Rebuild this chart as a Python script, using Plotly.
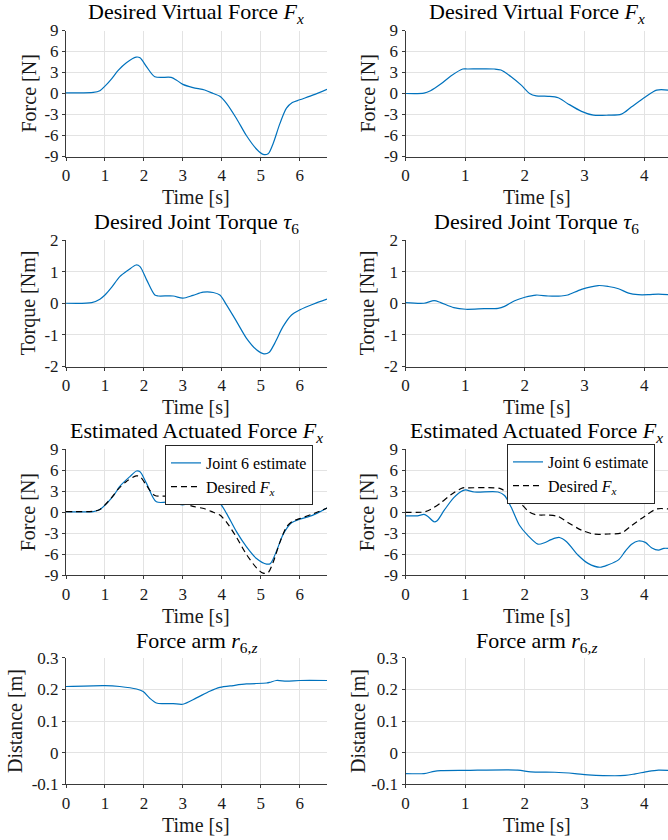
import plotly.graph_objects as go

# ---------------- data ----------------
# Left column (longer trial)
t_left_fx = [0, 0.7, 0.87, 1.0, 1.17, 1.34, 1.55, 1.8, 1.9, 2.07, 2.28, 2.7, 2.84, 3.0, 3.26, 3.56, 3.78, 3.95,
             4.12, 4.38, 4.63, 4.9, 5.06, 5.19, 5.32, 5.49, 5.66, 5.81, 6.0, 6.35, 6.7]
fx_left = [0.1, 0.15, 0.4, 1.05, 2.1, 3.3, 4.4, 5.2, 5.1, 3.8, 2.4, 2.3, 1.9, 1.3, 0.85, 0.5, 0.0, -0.4,
           -1.4, -3.6, -6.0, -8.0, -8.7, -8.6, -7.1, -4.3, -2.1, -1.3, -0.9, -0.2, 0.6]

t_left_tau = [0, 0.66, 0.87, 1.0, 1.17, 1.38, 1.6, 1.8, 1.9, 2.07, 2.28, 2.37, 2.75, 3.0, 3.26, 3.52, 3.78, 3.95,
              4.12, 4.38, 4.63, 4.89, 5.08, 5.21, 5.36, 5.57, 5.79, 6.0, 6.34, 6.7]
tau_left = [0.0, 0.02, 0.13, 0.26, 0.5, 0.84, 1.05, 1.21, 1.16, 0.74, 0.26, 0.23, 0.23, 0.16, 0.25, 0.35, 0.34, 0.26,
            -0.05, -0.58, -1.1, -1.47, -1.6, -1.56, -1.26, -0.74, -0.37, -0.21, -0.03, 0.13]

t_left_est = [0, 0.7, 0.87, 1.21, 1.38, 1.64, 1.81, 1.9, 2.07, 2.32, 2.75, 3.0, 3.26, 3.56, 3.78, 3.95,
              4.12, 4.38, 4.63, 4.89, 5.15, 5.25, 5.4, 5.57, 5.79, 6.0, 6.34, 6.7]
est_left = [0.1, 0.1, 0.4, 2.3, 3.7, 5.1, 5.9, 5.8, 4.1, 1.5, 1.5, 1.05, 1.6, 1.95, 1.76, 1.3,
            -0.15, -2.8, -4.9, -6.6, -7.4, -7.3, -5.6, -3.2, -1.5, -1.0, -0.4, 0.6]

t_left_r = [0, 1.0, 1.38, 1.81, 1.98, 2.15, 2.32, 2.5, 2.75, 3.0, 3.35, 3.69, 3.95, 4.29, 4.63, 5.15, 5.23, 5.4,
            5.66, 6.0, 6.7]
r_left = [0.209, 0.212, 0.209, 0.201, 0.193, 0.172, 0.157, 0.155, 0.155, 0.153, 0.173, 0.194, 0.206, 0.212, 0.217,
          0.220, 0.222, 0.228, 0.226, 0.228, 0.228]

# Right column (shorter trial)
t_right_fx = [0, 0.31, 0.42, 0.59, 0.76, 0.96, 1.04, 1.49, 1.6, 1.77, 1.94, 2.08, 2.19, 2.39, 2.56, 2.72, 2.95,
              3.15, 3.4, 3.62, 3.79, 4.02, 4.21, 4.41]
fx_right = [0.0, 0.05, 0.4, 1.35, 2.5, 3.5, 3.5, 3.5, 3.35, 2.4, 1.2, 0.0, -0.35, -0.4, -0.6, -1.45, -2.55,
            -3.1, -3.1, -2.95, -1.9, -0.5, 0.48, 0.48]

t_right_tau = [0, 0.31, 0.48, 0.59, 0.81, 1.01, 1.32, 1.55, 1.66, 1.83, 2.0, 2.19, 2.39, 2.61, 2.72, 2.95, 3.23,
               3.4, 3.57, 3.74, 3.9, 4.07, 4.24, 4.41]
tau_right = [0.02, 0.0, 0.08, 0.02, -0.14, -0.19, -0.17, -0.16, -0.1, 0.08, 0.19, 0.26, 0.23, 0.23, 0.26, 0.44,
             0.56, 0.53, 0.46, 0.32, 0.27, 0.27, 0.29, 0.27]

t_right_est = [0, 0.2, 0.31, 0.37, 0.48, 0.53, 0.65, 0.81, 0.96, 1.01, 1.15, 1.55, 1.66, 1.77, 1.91, 2.05, 2.22,
               2.33, 2.44, 2.58, 2.7, 2.89, 3.06, 3.26, 3.4, 3.57, 3.68, 3.79, 3.9, 4.02, 4.13, 4.24, 4.33, 4.41]
est_right = [-0.5, -0.5, -0.3, -0.55, -1.35, -1.2, 0.3, 2.1, 3.1, 3.2, 2.9, 2.9, 2.4, 0.75, -1.85, -3.3, -4.55,
             -4.35, -3.9, -3.6, -4.2, -6.1, -7.3, -7.85, -7.5, -6.8, -5.6, -4.55, -4.1, -4.3, -5.1, -5.4, -5.15, -5.15]

t_right_r = [0, 0.31, 0.48, 0.59, 1.01, 1.88, 2.1, 2.5, 2.84, 3.06, 3.68, 3.85, 4.07, 4.24, 4.41]
r_right = [-0.066, -0.066, -0.059, -0.057, -0.056, -0.055, -0.061, -0.062, -0.066, -0.070, -0.072, -0.067,
           -0.059, -0.055, -0.056]

# Tick labels
force_ticks = [-9, -6, -3, 0, 3, 6, 9]
force_ticktext = ["-9", "-6", "-3", "0", "3", "6", "9"]
torque_ticks = [-2, -1, 0, 1, 2]
torque_ticktext = ["-2", "-1", "0", "1", "2"]
dist_ticks = [-0.1, 0, 0.1, 0.2, 0.3]
dist_ticktext = ["-0.1", "0", "0.1", "0.2", "0.3"]
time_ticks_left = [0, 1, 2, 3, 4, 5, 6]
time_ticks_right = [0, 1, 2, 3, 4]

titles = [
    "Desired Virtual Force <i>F<sub>x</sub></i>",
    "Desired Joint Torque <i>τ</i><sub>6</sub>",
    "Estimated Actuated Force <i>F<sub>x</sub></i>",
    "Force arm <i>r</i><sub>6,<i>z</i></sub>",
]
ylabels = ["Force [N]", "Torque [Nm]", "Force [N]", "Distance [m]"]

# ---------------- style / layout ----------------
W, H = 668, 840
FONT = "Liberation Serif"
BLUE = "#0072BD"
AXC = "#3a3a3a"
GRIDC = "#e3e3e3"
TXT = "#1a1a1a"

col_px = [(66, 327), (405.5, 668)]
row_px = [(30.5, 156.5), (240, 366.5), (449.3, 575.3), (657.7, 784.3)]


def xd(a, b):
    return [a / W, min(b / W, 1.0)]


def yd(top, bot):
    return [1 - bot / H, 1 - top / H]


fig = go.Figure()


def add_line(idx, x, y, name=None, dash=None, color=BLUE, legend=None, show=False):
    fig.add_trace(go.Scatter(
        x=x, y=y, mode="lines", name=name,
        line=dict(color=color, width=1.2, shape="spline", smoothing=0.8, dash=dash),
        xaxis="x" if idx == 1 else f"x{idx}", yaxis="y" if idx == 1 else f"y{idx}",
        showlegend=show, legend=legend,
    ))


# subplot index: row r (0..3), col c (0..1) -> idx = r*2 + c + 1
add_line(1, t_left_fx, fx_left)
add_line(2, t_right_fx, fx_right)
add_line(3, t_left_tau, tau_left)
add_line(4, t_right_tau, tau_right)
add_line(5, t_left_est, est_left, name="Joint 6 estimate", legend="legend", show=True)
add_line(5, t_left_fx, fx_left, name="Desired <i>F<sub>x</sub></i>", dash="6px,4px", color="#000000",
         legend="legend", show=True)
add_line(6, t_right_est, est_right, name="Joint 6 estimate", legend="legend2", show=True)
add_line(6, t_right_fx, fx_right, name="Desired <i>F<sub>x</sub></i>", dash="6px,4px", color="#000000",
         legend="legend2", show=True)
add_line(7, t_left_r, r_left)
add_line(8, t_right_r, r_right)

layout = dict(
    width=W, height=H,
    margin=dict(l=0, r=0, t=0, b=0, autoexpand=False),
    paper_bgcolor="white", plot_bgcolor="white",
    font=dict(family=FONT, size=17, color=TXT),
    showlegend=True,
)

yspecs = [
    (force_ticks, force_ticktext, [-9, 9]),
    (torque_ticks, torque_ticktext, [-2, 2]),
    (force_ticks, force_ticktext, [-9, 9]),
    (dist_ticks, dist_ticktext, [-0.1, 0.3]),
]

annotations = []
for r in range(4):
    for c in range(2):
        idx = r * 2 + c + 1
        xk = "xaxis" if idx == 1 else f"xaxis{idx}"
        yk = "yaxis" if idx == 1 else f"yaxis{idx}"
        xr = [0, 6.7] if c == 0 else [0, 4.4]
        xt = time_ticks_left if c == 0 else time_ticks_right
        common = dict(showgrid=True, gridcolor=GRIDC, gridwidth=1, zeroline=False,
                      showline=True, linecolor=AXC, linewidth=1, ticks="outside", ticklen=3,
                      tickcolor=AXC, tickfont=dict(family=FONT, size=17, color=TXT),
                      fixedrange=True)
        layout[xk] = dict(domain=xd(*col_px[c]), range=xr, tickvals=xt,
                          ticktext=[str(v) for v in xt],
                          anchor="y" if idx == 1 else f"y{idx}", **common)
        tv, tt, yr = yspecs[r]
        layout[yk] = dict(domain=yd(*row_px[r]), range=yr, tickvals=tv, ticktext=tt,
                          anchor="x" if idx == 1 else f"x{idx}", **common)

        cx = (col_px[c][0] + col_px[c][1]) / 2
        top, bot = row_px[r]
        # subplot title
        title_y = [13.5, 223.5, 432, 642][r]
        annotations.append(dict(text=titles[r], x=cx / W, y=1 - title_y / H, xref="paper", yref="paper",
                                xanchor="center", yanchor="middle", showarrow=False,
                                font=dict(family=FONT, size=22, color="#000000")))
        # x-axis title
        annotations.append(dict(text="Time [s]", x=cx / W, y=1 - (bot + 40.5) / H, xref="paper", yref="paper",
                                xanchor="center", yanchor="middle", showarrow=False,
                                font=dict(family=FONT, size=20, color=TXT)))
        # y-axis title
        if r == 3:
            lx = 15 if c == 0 else 358
        else:
            lx = 28 if c == 0 else 367
        annotations.append(dict(text=ylabels[r], x=lx / W, y=1 - ((top + bot) / 2) / H, xref="paper",
                                yref="paper", xanchor="center", yanchor="middle", textangle=-90,
                                showarrow=False, font=dict(family=FONT, size=20, color=TXT)))

layout["annotations"] = annotations

leg_common = dict(bgcolor="white", bordercolor="#262626", borderwidth=1,
                  font=dict(family=FONT, size=16, color="#000000"),
                  xanchor="left", yanchor="top", tracegroupgap=0, itemwidth=30)
layout["legend"] = dict(x=165 / W, y=1 - 445 / H, **leg_common)
layout["legend2"] = dict(x=507 / W, y=1 - 444 / H, **leg_common)

fig.update_layout(**layout)
fig.write_html(
    "out.html",
    config={"displayModeBar": False},
    post_script="document.body.style.margin='0px';document.documentElement.style.overflow='hidden';",
)
